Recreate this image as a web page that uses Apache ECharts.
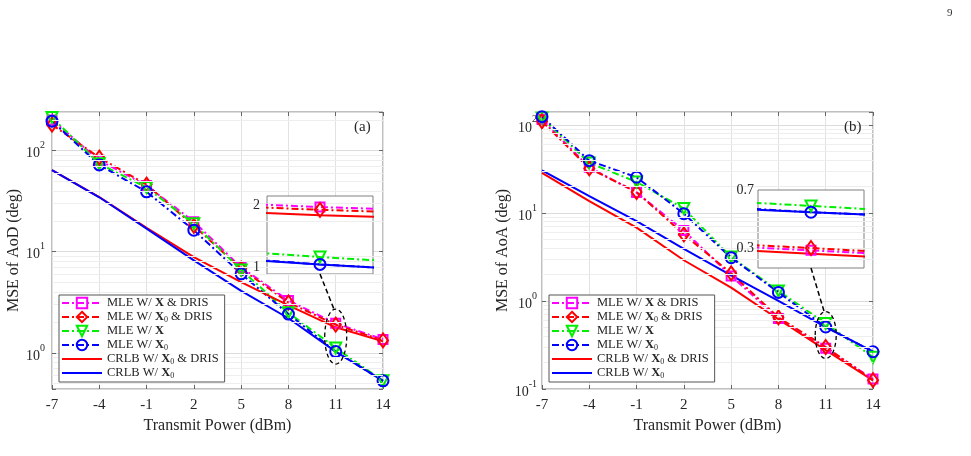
<!DOCTYPE html>
<html>
<head>
<meta charset="utf-8">
<script src="https://cdn.jsdelivr.net/npm/echarts@6/dist/echarts.min.js"></script>
<style>
  html, body { margin: 0; padding: 0; background: #fff; }
  #chart { width: 971px; height: 456px; }
</style>
</head>
<body>
<div id="chart"></div>
<script>
const FONT = 'Liberation Serif';
const INK = '#262626';

// transmit power (dBm)
const power = [-7, -4, -1, 2, 5, 8, 11, 14];

// (a) MSE of AoD (deg)
const aodMleXDris   = [200, 80, 45, 19.8, 7.0, 3.3, 1.96, 1.36];
const aodMleX0Dris  = [180, 85, 46, 18.0, 6.8, 3.15, 1.9, 1.33];
const aodMleX       = [212, 74, 43, 18.9, 6.6, 2.5, 1.12, 0.53];
const aodMleX0      = [195, 72, 39, 16.3, 6.05, 2.42, 1.03, 0.53];
const aodCrlbX0Dris = [64, 34.7, 17.2, 8.85, 5.0, 2.95, 1.79, 1.3];
const aodCrlbX0     = [64, 34.5, 16.9, 8.2, 4.1, 2.2, 1.03, 0.53];

// (b) MSE of AoA (deg)
const aoaMleXDris   = [115, 33, 17, 6.3, 1.92, 0.63, 0.29, 0.13];
const aoaMleX0Dris  = [110, 32, 17.3, 5.7, 2.06, 0.65, 0.30, 0.126];
const aoaMleX       = [120, 37, 22.5, 11.2, 3.15, 1.3, 0.555, 0.23];
const aoaMleX0      = [124, 39.2, 25.4, 9.8, 3.1, 1.25, 0.506, 0.265];
const aoaCrlbX0Dris = [28.5, 13.6, 6.8, 2.9, 1.42, 0.62, 0.276, 0.125];
const aoaCrlbX0     = [30.5, 15.5, 8.05, 3.9, 1.95, 1.0, 0.506, 0.265];

const seriesNames = ['MLE W/ X & DRIS', 'MLE W/ X0 & DRIS', 'MLE W/ X', 'MLE W/ X0',
                     'CRLB W/ X0 & DRIS', 'CRLB W/ X0'];
const legendLabels = ['MLE W/ {b|X} & DRIS', 'MLE W/ {b|X}{s|0} & DRIS', 'MLE W/ {b|X}',
                      'MLE W/ {b|X}{s|0}', 'CRLB W/ {b|X}{s|0} & DRIS', 'CRLB W/ {b|X}{s|0}'];

const dashDot = [7, 3, 2, 3];
const looks = [
  { color: '#ff00ff', symbol: 'rect', size: 9, dash: dashDot },
  { color: '#ff0000', symbol: 'diamond', size: [10, 14], dash: dashDot },
  { color: '#00ee00', symbol: 'triangle', size: 11, rotate: 180, dash: dashDot },
  { color: '#0000ff', symbol: 'circle', size: 11, dash: dashDot },
  { color: '#ff0000', symbol: 'none', dash: 'solid' },
  { color: '#0000ff', symbol: 'none', dash: 'solid' }
];

// pixel layout
const mainA = { left: 52, top: 112, width: 331, height: 277 };
const mainB = { left: 542, top: 112, width: 331, height: 277 };
const insetA = { left: 267, top: 196, width: 106, height: 78 };
const insetB = { left: 758, top: 190, width: 106, height: 78 };

function powLabel(v) {
  const l = Math.log10(v);
  const e = Math.round(l);
  if (Math.abs(l - e) > 1e-6) return '';
  return '{n|10}{sup|' + e + '}';
}

const powRich = {
  n: { fontFamily: FONT, fontSize: 14, color: INK, lineHeight: 20, verticalAlign: 'bottom' },
  sup: { fontFamily: FONT, fontSize: 10, color: INK, verticalAlign: 'top' }
};

const tickStyle = { inside: true, length: 4, lineStyle: { color: '#666' } };
const noLine = { show: false, onZero: false };

function mainX(grid) {
  return {
    type: 'value', gridIndex: grid, min: -7, max: 14, interval: 3,
    axisLine: noLine, axisTick: tickStyle,
    axisLabel: { margin: 9, fontSize: 15, fontFamily: FONT, color: INK },
    splitLine: { show: true, lineStyle: { color: '#e2e2e2' } },
    name: 'Transmit Power (dBm)', nameLocation: 'middle', nameGap: 27,
    nameTextStyle: { fontSize: 16, fontFamily: FONT, color: INK }
  };
}

function mirrorX(grid) {
  return {
    type: 'value', gridIndex: grid, position: 'top', min: -7, max: 14, interval: 3,
    axisLine: noLine, axisLabel: { show: false }, splitLine: { show: false },
    axisTick: tickStyle
  };
}

function mainY(grid, min, max, name, margin) {
  return {
    type: 'log', logBase: 10, gridIndex: grid, min: min, max: max,
    axisLine: noLine, axisTick: tickStyle,
    axisLabel: { formatter: powLabel, margin: margin, rich: powRich },
    splitLine: { show: true, lineStyle: { color: '#dcdcdc' } },
    name: name, nameLocation: 'middle', nameGap: 30,
    nameTextStyle: { fontSize: 16, fontFamily: FONT, color: INK }
  };
}

function mirrorY(grid, min, max) {
  return {
    type: 'log', logBase: 10, gridIndex: grid, position: 'right', min: min, max: max,
    axisLine: noLine, axisLabel: { show: false }, splitLine: { show: false },
    axisTick: tickStyle
  };
}

function insetX(grid) {
  return {
    type: 'value', gridIndex: grid, min: 10.85, max: 11.15, z: 6,
    axisLine: noLine, axisTick: { show: false },
    axisLabel: { show: false }, splitLine: { show: false }
  };
}

function insetY(grid, min, max, ticks, margin) {
  return {
    type: 'log', logBase: 10, gridIndex: grid, min: min, max: max, z: 6,
    axisLine: noLine, axisTick: { show: false }, splitLine: { show: false },
    axisLabel: {
      customValues: ticks, margin: margin, fontSize: 14, fontFamily: FONT, color: INK,
      showMinLabel: true, showMaxLabel: true,
      formatter: v => String(Math.round(v * 10) / 10)
    }
  };
}

function minorGrid(xi, yi, min, max) {
  const lines = [];
  for (let e = -2; e <= 3; e++) {
    for (let m = 2; m <= 9; m++) {
      const v = m * Math.pow(10, e);
      if (v > min && v < max) lines.push({ yAxis: v });
    }
  }
  return {
    type: 'line', xAxisIndex: xi, yAxisIndex: yi, data: [], z: 1, silent: true,
    markLine: {
      silent: true, symbol: 'none', label: { show: false }, animation: false,
      lineStyle: { color: '#eeeeee', type: 'solid', width: 1 },
      emphasis: { disabled: true }, data: lines
    }
  };
}

function plotSeries(sets, xi, yi, z) {
  return sets.map((vals, k) => {
    const lk = looks[k];
    const hasMark = lk.symbol !== 'none';
    return {
      name: seriesNames[k], type: 'line', xAxisIndex: xi, yAxisIndex: yi, z: z,
      data: power.map((p, i) => [p, vals[i]]),
      symbol: lk.symbol, symbolSize: lk.size || 8, symbolRotate: lk.rotate || 0,
      showSymbol: hasMark, showAllSymbol: true, clip: true, silent: true,
      lineStyle: { color: lk.color, width: 2, type: lk.dash },
      itemStyle: hasMark
        ? { color: 'rgba(255,255,255,0)', borderColor: lk.color, borderWidth: 2 }
        : { color: lk.color, borderWidth: 0 },
      emphasis: { disabled: true }
    };
  });
}

function legendAt(left, top) {
  return {
    data: seriesNames.map((name, k) => looks[k].symbol === 'none'
      ? { name: name, itemStyle: { color: 'rgba(0,0,0,0)', borderWidth: 0, opacity: 0 } }
      : { name: name }),
    orient: 'vertical', left: left, top: top, selectedMode: false,
    itemWidth: 40, itemHeight: 13, itemGap: 0,
    padding: [1, 6, 2, 2], borderColor: '#555', borderWidth: 1,
    backgroundColor: '#fff', z: 8,
    formatter: name => legendLabels[seriesNames.indexOf(name)],
    textStyle: {
      fontFamily: FONT, fontSize: 12.5, color: INK, lineHeight: 14,
      rich: {
        b: { fontFamily: FONT, fontSize: 12.5, fontWeight: 'bold', color: INK },
        s: { fontFamily: FONT, fontSize: 8, color: INK, verticalAlign: 'bottom' }
      }
    }
  };
}

const aodSets = [aodMleXDris, aodMleX0Dris, aodMleX, aodMleX0, aodCrlbX0Dris, aodCrlbX0];
const aoaSets = [aoaMleXDris, aoaMleX0Dris, aoaMleX, aoaMleX0, aoaCrlbX0Dris, aoaCrlbX0];

const aMin = 0.44, aMax = 240;
const bMin = 0.1, bMax = 140;

const chart = echarts.init(document.getElementById('chart'));

chart.setOption({
  animation: false,
  backgroundColor: '#fff',
  textStyle: { fontFamily: FONT },
  title: [
    { text: '(a)', left: 354, top: 120, padding: 0,
      textStyle: { fontFamily: FONT, fontSize: 15, fontWeight: 'normal', color: INK } },
    { text: '(b)', left: 844, top: 120, padding: 0,
      textStyle: { fontFamily: FONT, fontSize: 15, fontWeight: 'normal', color: INK } }
  ],
  grid: [
    Object.assign({ show: true, borderColor: '#808080', borderWidth: 1, backgroundColor: '#fff' }, mainA),
    Object.assign({ show: true, borderColor: '#808080', borderWidth: 1, backgroundColor: '#fff' }, mainB),
    Object.assign({ show: true, borderColor: '#808080', borderWidth: 1, backgroundColor: '#fff', z: 5 }, insetA),
    Object.assign({ show: true, borderColor: '#808080', borderWidth: 1, backgroundColor: '#fff', z: 5 }, insetB)
  ],
  xAxis: [mainX(0), mirrorX(0), mainX(1), mirrorX(1), insetX(2), insetX(3)],
  yAxis: [
    mainY(0, aMin, aMax, 'MSE of AoD (deg)', 7),
    mirrorY(0, aMin, aMax),
    mainY(1, bMin, bMax, 'MSE of AoA (deg)', 5),
    mirrorY(1, bMin, bMax),
    insetY(2, 0.925, 2.22, [1, 2], 7),
    insetY(3, 0.224, 0.7, [0.3, 0.7], 4)
  ],
  legend: [legendAt(59, 295), legendAt(549, 295)],
  series: [].concat(
    [minorGrid(0, 0, aMin, aMax), minorGrid(2, 2, bMin, bMax)],
    plotSeries(aodSets, 0, 0, 2),
    plotSeries(aoaSets, 2, 2, 2),
    plotSeries(aodSets, 4, 4, 6),
    plotSeries(aoaSets, 5, 5, 6)
  )
});

// zoom callouts: dashed ellipse around x = 11 and a dashed connector to the inset
function callout(xi, yi, center, rx, ry, inset) {
  const c = chart.convertToPixel({ xAxisIndex: xi, yAxisIndex: yi }, center);
  const sx = inset.left + inset.width / 2;
  const sy = inset.top + inset.height;
  const dash = { stroke: '#000', lineWidth: 1.3, lineDash: [4, 3], fill: 'none' };
  return [
    { type: 'ellipse', z: 100, silent: true, shape: { cx: c[0], cy: c[1], rx: rx, ry: ry }, style: dash },
    { type: 'line', z: 100, silent: true, shape: { x1: sx, y1: sy, x2: c[0] - 1, y2: c[1] - ry + 2 },
      style: { stroke: '#000', lineWidth: 1.5, lineDash: [5, 3] } }
  ];
}

chart.setOption({
  graphic: [].concat(
    callout(0, 0, [11, 1.45], 11, 27.5, insetA),
    callout(2, 2, [11, 0.41], 10.5, 23.5, insetB),
    [{ type: 'text', left: 947, top: 8, silent: true,
       style: { text: '9', font: '11px "Liberation Serif"', fill: '#333' } }]
  )
});
</script>
</body>
</html>
